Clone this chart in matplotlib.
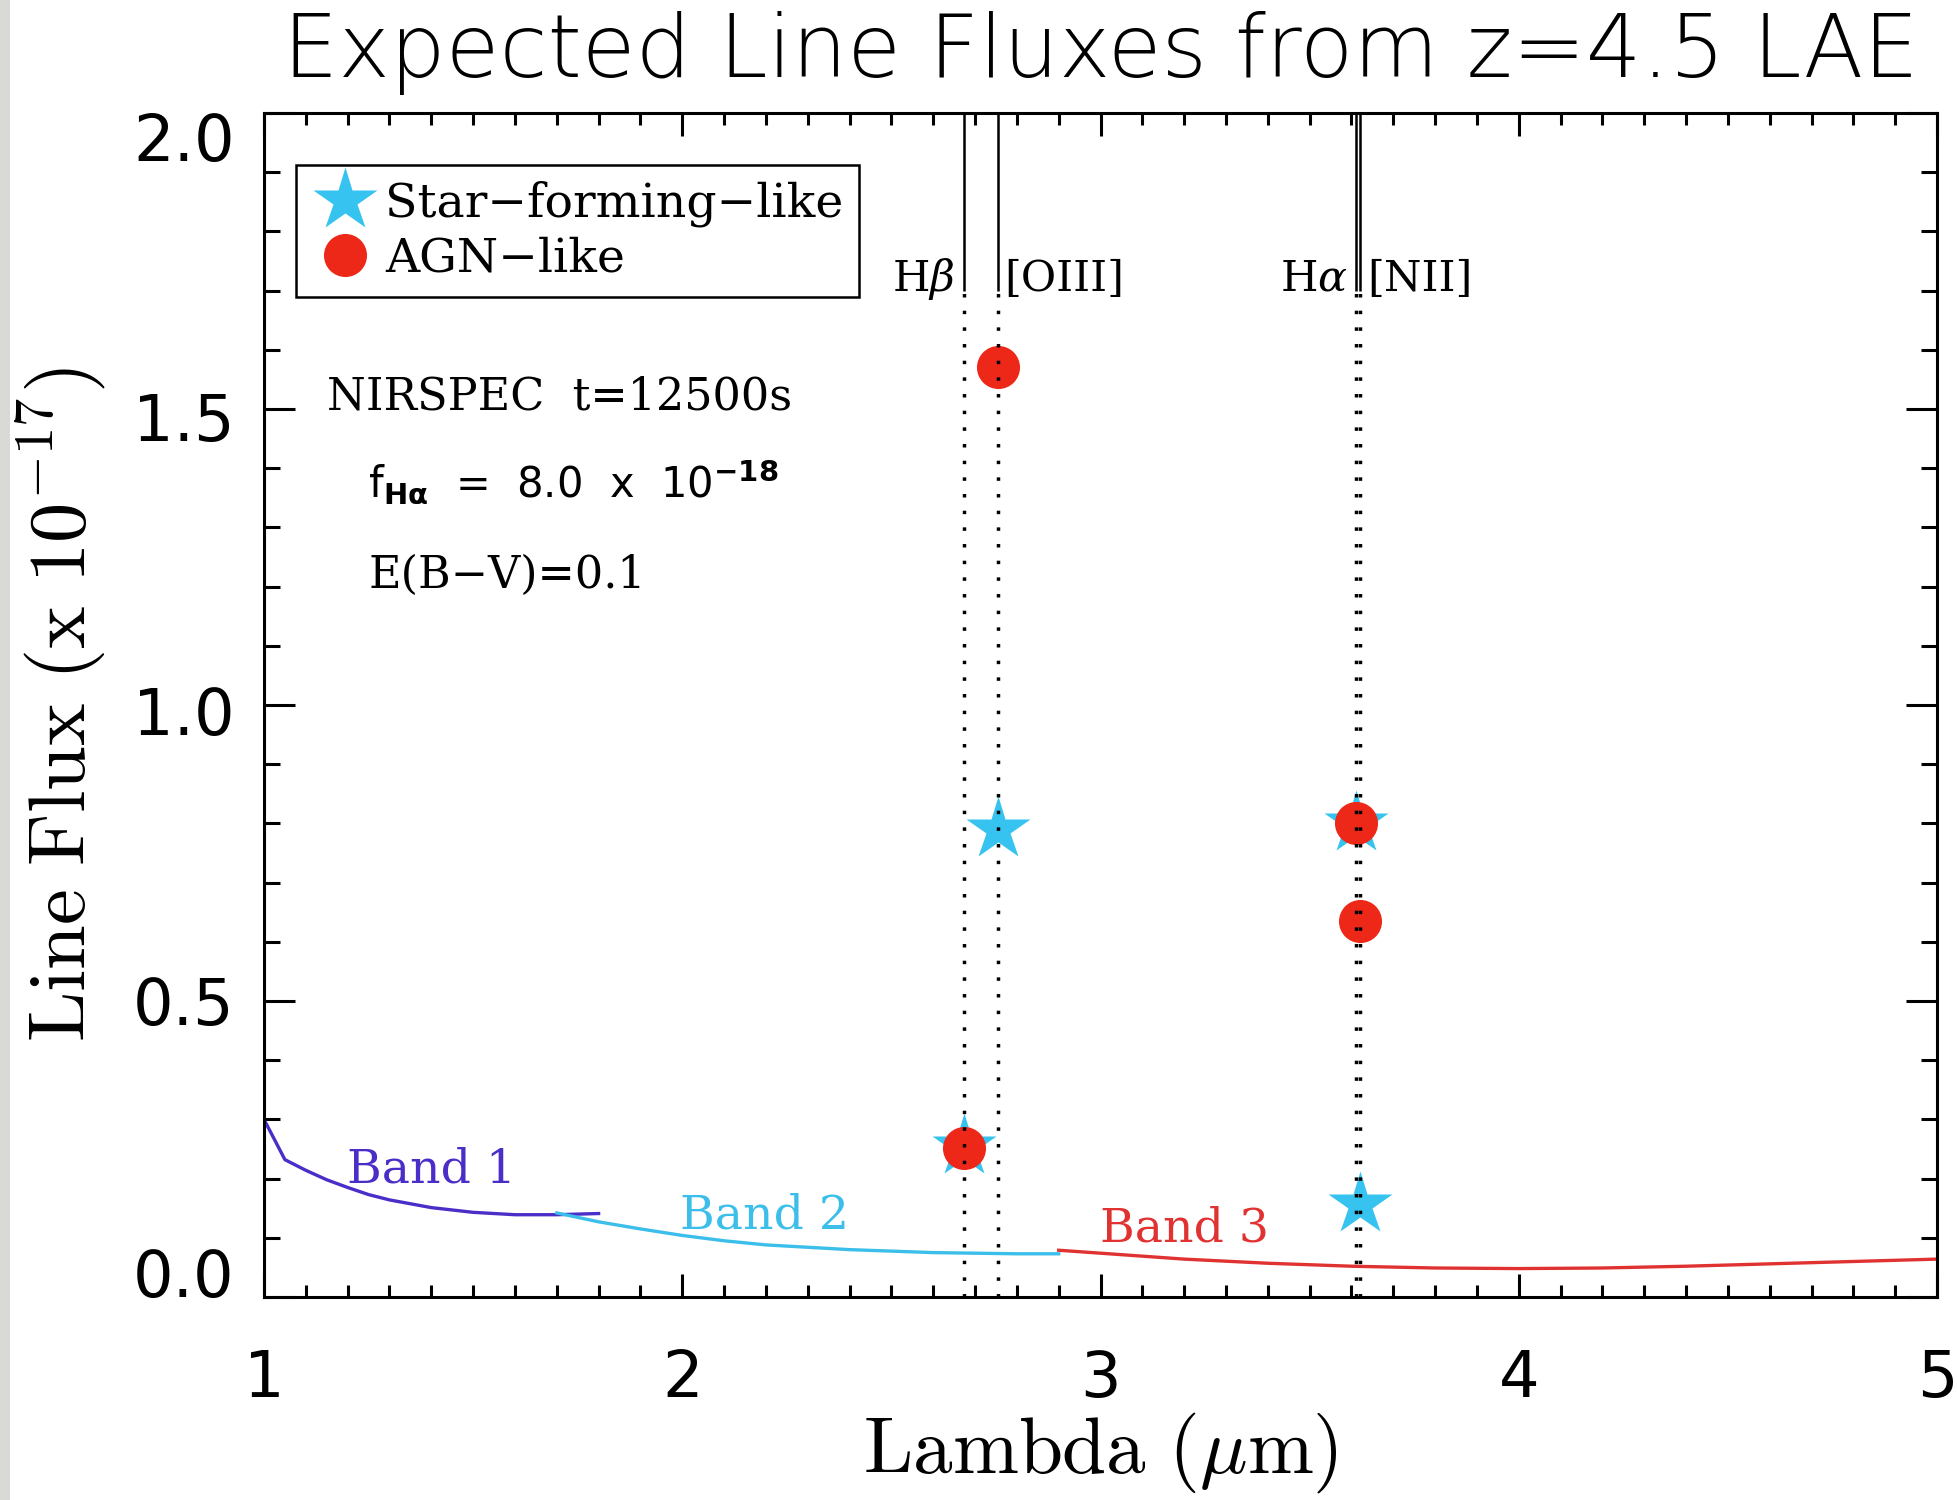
import matplotlib
matplotlib.use('Agg')
import matplotlib.pyplot as plt
from matplotlib.ticker import MultipleLocator, FixedLocator
from matplotlib.transforms import ScaledTranslation
from matplotlib.patches import Rectangle

# ---------------- data ----------------
band1_x = [1.00, 1.05, 1.10, 1.15, 1.20, 1.25, 1.30, 1.40, 1.50, 1.60, 1.70, 1.80]
band1_y = [0.300, 0.232, 0.214, 0.198, 0.185, 0.173, 0.164, 0.151, 0.143, 0.139, 0.139, 0.141]
band2_x = [1.70, 1.80, 1.90, 2.00, 2.10, 2.20, 2.40, 2.60, 2.80, 2.90]
band2_y = [0.142, 0.127, 0.115, 0.104, 0.095, 0.088, 0.080, 0.075, 0.073, 0.073]
band3_x = [2.90, 3.00, 3.20, 3.40, 3.60, 3.80, 4.00, 4.20, 4.40, 4.60, 4.80, 5.00]
band3_y = [0.079, 0.074, 0.064, 0.057, 0.052, 0.049, 0.048, 0.049, 0.052, 0.056, 0.060, 0.064]
band_names = ['Band 1', 'Band 2', 'Band 3']

line_names = [r'H$\beta$', '[OIII]', r'H$\alpha$', '[NII]']
line_wave = [2.674, 2.754, 3.610, 3.621]
sf_flux = [0.255, 0.790, 0.800, 0.157]
agn_flux = [0.252, 1.571, 0.800, 0.635]

x_ticks = [1, 2, 3, 4, 5]
x_ticklabels = ['1', '2', '3', '4', '5']
y_ticks = [0.0, 0.5, 1.0, 1.5, 2.0]
y_ticklabels = ['0.0', '0.5', '1.0', '1.5', '2.0']

# ---------------- style ----------------
c_b1, c_b2, c_b3 = '#4b2dc8', '#3cbeeb', '#e13232'
c_star, c_circ = '#36c3f0', '#ee2819'
serif = 'DejaVu Serif'

plt.rcParams['font.family'] = ['DejaVu Sans']
plt.rcParams['mathtext.fontset'] = 'dejavusans'

fig = plt.figure(figsize=(19.57, 15), dpi=100)
fig.patches.append(Rectangle((0, 0), 10 / 1957, 1, transform=fig.transFigure,
                             facecolor='#d9d9d5', edgecolor='none', zorder=0))
ax = fig.add_axes([264 / 1957, 1 - 1297 / 1500, 1673 / 1957, 1184 / 1500])

# bands
ax.plot(band1_x, band1_y, color=c_b1, lw=2.4, zorder=2)
ax.plot(band2_x, band2_y, color=c_b2, lw=2.4, zorder=2)
ax.plot(band3_x, band3_y, color=c_b3, lw=2.4, zorder=2)
band_lab_pos = [(1.199, 0.193), (1.995, 0.115), (3.000, 0.093)]
for name, (bx, by), col in zip(band_names, band_lab_pos, [c_b1, c_b2, c_b3]):
    ax.text(bx, by, name, color=col, fontsize=34, family=serif, va='baseline', ha='left')

# markers
ax.plot(line_wave, sf_flux, linestyle='none', marker='*', ms=48, color=c_star,
        mec='none', zorder=3, label='Star\u2212forming\u2212like')
ax.plot(line_wave, agn_flux, linestyle='none', marker='o', ms=31, color=c_circ,
        mec='none', zorder=4, label='AGN\u2212like')

# emission line markers
ax.vlines(line_wave, 1.70, 2.0, color='black', lw=1.8, zorder=5)
ax.vlines(line_wave, 0.0, 1.70, color='black', lw=2.5, linestyles=[(0, (1, 3.8))], zorder=5)
lab_dx = [-0.022, 0.017, -0.018, 0.016]
lab_ha = ['right', 'left', 'right', 'left']
for name, w, dx, ha in zip(line_names, line_wave, lab_dx, lab_ha):
    ax.text(w + dx, 1.70, name, fontsize=31, family=serif, ha=ha, va='baseline',
            math_fontfamily='dejavuserif')

# annotations
ax.text(1.151, 1.50, 'NIRSPEC  t=12500s', fontsize=32, family=serif, va='baseline')
ax.text(1.249, 1.351, r'f$_{\mathbf{H\alpha}}$  =  8.0  x  10$^{\mathbf{-18}}$',
        fontsize=30, family='DejaVu Sans', va='baseline')
ax.text(1.249, 1.198, 'E(B\u2212V)=0.1', fontsize=32, family=serif, va='baseline')

# legend
leg = ax.legend(loc='upper left', bbox_to_anchor=((296 - 264) / 1673, (1297 - 165) / 1184),
                borderaxespad=0, numpoints=1, handlelength=1.43, handletextpad=0.12,
                borderpad=0.33, labelspacing=0.2, fancybox=False, framealpha=1,
                prop={'family': serif, 'size': 34})
leg.get_frame().set_edgecolor('black')
leg.get_frame().set_linewidth(1.8)

# axes
ax.set_xlim(1, 5)
ax.set_ylim(0, 2)
ax.xaxis.set_major_locator(FixedLocator(x_ticks))
ax.xaxis.set_minor_locator(MultipleLocator(0.1))
ax.yaxis.set_major_locator(FixedLocator(y_ticks))
ax.yaxis.set_minor_locator(MultipleLocator(0.1))
ax.set_xticklabels(x_ticklabels)
ax.set_yticklabels(y_ticklabels)
for s in ax.spines.values():
    s.set_linewidth(2.2)
ax.tick_params(which='both', direction='in', top=True, right=True, width=2.2, color='black')
ax.tick_params(axis='x', which='major', length=16.5, pad=37, labelsize=46)
ax.tick_params(axis='x', which='minor', length=8.3)
ax.tick_params(axis='y', which='major', length=22, pad=21, labelsize=46)
ax.tick_params(axis='y', which='minor', length=11.5)

ax.set_xlabel(r'$\mathrm{Lambda\ (}\mu\mathrm{m)}$', fontsize=57, math_fontfamily='cm')
ax.xaxis.set_label_coords(0.5, -0.096)
ax.set_ylabel(r'$\mathrm{Line\ Flux\ (x\ 10^{-17})}$', fontsize=58, math_fontfamily='cm')
ax.yaxis.set_label_coords(-0.094, 0.5)

ax.set_title('Expected Line Fluxes from z=4.5 LAE', fontsize=63, pad=26,
             family='DejaVu Sans', fontweight='light')

# y tick label vertical nudges (as in the original layout)
yoff = [24, 0, -6, -7, -24]
for tick, dy in zip(ax.yaxis.get_major_ticks(), yoff):
    lab = tick.label1
    lab.set_transform(lab.get_transform() + ScaledTranslation(0, dy / 100, fig.dpi_scale_trans))

fig.savefig('out.png', dpi=100, facecolor='white')
